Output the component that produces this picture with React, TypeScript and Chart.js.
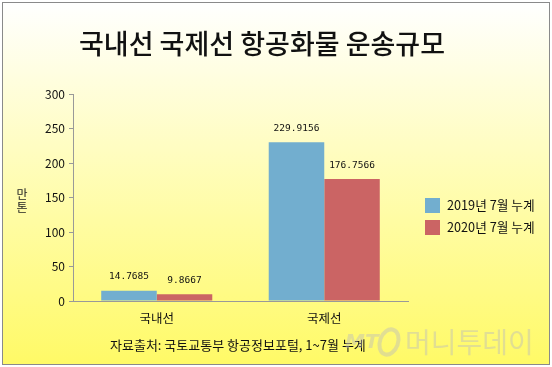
import React, { useEffect, useRef } from "react";
import { Chart, registerables } from "chart.js";

Chart.register(...registerables);

const TITLE = "국내선 국제선 항공화물 운송규모";
const Y_TITLE = ["만", "톤"];
const SOURCE = "자료출처: 국토교통부 항공정보포털, 1~7월 누계";
const categories = ["국내선", "국제선"];
const seriesNames = ["2019년 7월 누계", "2020년 7월 누계"];
const values2019 = [14.7685, 229.9156];
const values2020 = [9.8667, 176.7566];
const valueLabels2019 = ["14.7685", "229.9156"];
const valueLabels2020 = ["9.8667", "176.7566"];
const colors = ["#72AECF", "#CB6464"];

const KFONT = "'Noto Sans CJK KR', 'Noto Sans', sans-serif";

const decorPlugin = {
  id: "decor",
  beforeDraw(chart: any) {
    const { ctx, width, height } = chart;
    ctx.save();
    ctx.fillStyle = "#ffffff";
    ctx.fillRect(0, 0, width, height);
    const g = ctx.createLinearGradient(0, 2, 0, height - 2);
    g.addColorStop(0, "#ffffff");
    g.addColorStop(1, "#FFFA66");
    ctx.fillStyle = g;
    ctx.fillRect(2, 2, width - 4, height - 4);
    ctx.strokeStyle = "#8a8a8a";
    ctx.lineWidth = 1;
    ctx.strokeRect(2.5, 2.5, width - 5, height - 5);

    // title
    ctx.fillStyle = "#111";
    ctx.font = `500 27px ${KFONT}`;
    ctx.textAlign = "center";
    ctx.textBaseline = "middle";
    ctx.fillText(TITLE, 262, 44);

    // y title
    ctx.font = `12px ${KFONT}`;
    ctx.fillStyle = "#222";
    ctx.fillText(Y_TITLE[0], 22, 194);
    ctx.fillText(Y_TITLE[1], 22, 207);

    // source
    ctx.textAlign = "left";
    ctx.font = `13px ${KFONT}`;
    ctx.fillStyle = "#111";
    ctx.fillText(SOURCE, 110, 345);

    // legend
    const legendX = 425;
    const legendY = [198, 220];
    chart.data.datasets.forEach((ds: any, i: number) => {
      ctx.fillStyle = ds.backgroundColor;
      ctx.fillRect(legendX, legendY[i], 15, 15);
      ctx.fillStyle = "#111";
      ctx.font = `12.7px ${KFONT}`;
      ctx.textAlign = "left";
      ctx.fillText(ds.label, 447, legendY[i] + 7.5);
    });
    ctx.restore();
  },
  afterDatasetsDraw(chart: any) {
    const { ctx } = chart;
    const labels = [valueLabels2019, valueLabels2020];
    ctx.save();
    ctx.font = "9.5px 'DejaVu Sans Mono', monospace";
    ctx.fillStyle = "#111";
    ctx.textAlign = "center";
    ctx.textBaseline = "middle";
    chart.data.datasets.forEach((ds: any, di: number) => {
      const meta = chart.getDatasetMeta(di);
      meta.data.forEach((el: any, i: number) => {
        ctx.fillText(labels[di][i], el.x, el.y - 14);
      });
    });
    ctx.restore();
  },
  afterDraw(chart: any) {
    const { ctx } = chart;
    ctx.save();
    ctx.globalAlpha = 0.45;
    ctx.fillStyle = "#bdbdbd";
    ctx.textBaseline = "middle";
    ctx.textAlign = "left";
    ctx.font = `italic bold 20px 'DejaVu Sans', sans-serif`;
    ctx.fillText("MT", 345, 343);
    ctx.beginPath();
    ctx.strokeStyle = "#bdbdbd";
    ctx.lineWidth = 4;
    ctx.ellipse(389, 342, 9, 13, 0.35, 0, Math.PI * 2);
    ctx.stroke();
    ctx.font = `28px ${KFONT}`;
    ctx.fillText("머니투데이", 405, 342);
    ctx.restore();
  },
};

export default function App() {
  const ref = useRef<HTMLCanvasElement>(null);
  useEffect(() => {
    document.body.style.margin = "0";
    const chart = new Chart(ref.current!, {
      type: "bar",
      data: {
        labels: categories,
        datasets: [
          { label: seriesNames[0], data: values2019, backgroundColor: colors[0], barPercentage: 1, categoryPercentage: 0.663 },
          { label: seriesNames[1], data: values2020, backgroundColor: colors[1], barPercentage: 1, categoryPercentage: 0.663 },
        ],
      },
      options: {
        animation: false,
        responsive: false,
        layout: { padding: { top: 94, right: 144, bottom: 0, left: 0 } },
        plugins: { legend: { display: false }, tooltip: { enabled: false }, title: { display: false } },
        scales: {
          x: {
            afterFit: (s: any) => { s.height = 66; },
            grid: { display: true, drawOnChartArea: false, drawTicks: false },
            border: { display: true, color: "#999", width: 1 },
            ticks: { padding: 10, color: "#111", font: { family: KFONT, size: 12.5 } },
          },
          y: {
            min: 0,
            max: 300,
            afterFit: (s: any) => { s.width = 73; },
            grid: { display: true, drawOnChartArea: false, drawTicks: true, tickLength: 4, tickColor: "#999" },
            border: { display: true, color: "#999", width: 1 },
            ticks: { stepSize: 50, padding: 4, color: "#111", font: { family: KFONT, size: 12 } },
          },
        },
      },
      plugins: [decorPlugin],
    });
    return () => chart.destroy();
  }, []);
  return <canvas ref={ref} width={552} height={367} style={{ display: "block" }} />;
}
